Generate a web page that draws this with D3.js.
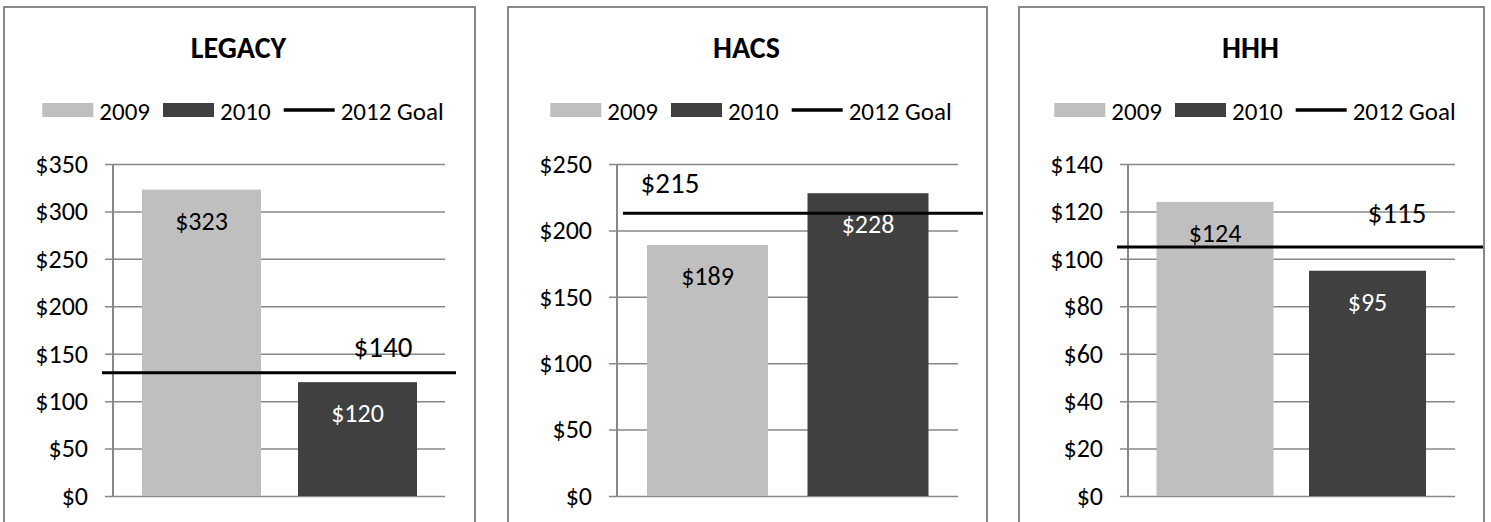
<!DOCTYPE html>
<html lang="en">
<head>
<meta charset="UTF-8">
<title>Cost per member - 2009 / 2010 / 2012 Goal</title>
<style>
	* { margin: 0; box-sizing: border-box; }
	body { width: 1491px; height: 522px; background: white; overflow: hidden; }
	svg { display: block; font-family: Carlito, Calibri, Lato, sans-serif; }
</style>
</head>
<body>
<svg id="chart" width="1491" height="522"></svg>
<script src="https://cdn.jsdelivr.net/npm/d3@7/dist/d3.min.js"></script>
<script>
// data
const panels = ["LEGACY", "HACS", "HHH"];
const years = ["2009", "2010"];
const values2009 = [323, 189, 124];
const values2010 = [120, 228, 95];
const goalLabels = [140, 215, 115];   // value printed next to the goal line
const goalDrawn = [130, 213, 105];    // where the line actually sits in the picture
const yMax = [350, 250, 140];
const yStep = [50, 50, 20];
const legendNames = ["2009", "2010", "2012 Goal"];
// data end

const colors = {"2009": "#bfbfbf", "2010": "#404040"};
const grey = "#888";

// layout of each panel (pixels)
const layout = [
	{box: [4, 475], axis: 113, gridEnd: 445, centers: [201.5, 357.5], bw: 119, line: [102, 456], lab: [383, 347]},
	{box: [508, 987], axis: 617, gridEnd: 958, centers: [707.5, 868], bw: 121, line: [623, 983], lab: [670, 183]},
	{box: [1019, 1484], axis: 1128, gridEnd: 1455, centers: [1215, 1367.5], bw: 117, line: [1117, 1483], lab: [1397, 213]}
];
const plotTop = 164, plotBottom = 496;

const svg = d3.select("#chart");
const fmt = d => "$" + d;

panels.forEach((name, i) => {
	const L = layout[i];
	const g = svg.append("g");
	const mid = (L.box[0] + L.box[1]) / 2;

	// panel frame (bottom runs off the picture)
	g.append("path")
		.attr("d", `M${L.box[0]},540V7H${L.box[1]}V540`)
		.attr("fill", "none")
		.attr("stroke", grey)
		.attr("stroke-width", 2);

	g.append("text")
		.attr("x", mid - 1).attr("y", 58)
		.attr("text-anchor", "middle")
		.attr("font-weight", "bold")
		.attr("font-size", 30)
		.text(name);

	// legend, centred on the panel
	const leg = g.append("g");
	let x = 0;
	legendNames.forEach((n, k) => {
		if (k < 2) {
			leg.append("rect").attr("x", x).attr("y", 103).attr("width", 51).attr("height", 14)
				.attr("fill", colors[years[k]]);
		} else {
			leg.append("line").attr("x1", x).attr("x2", x + 51).attr("y1", 110).attr("y2", 110)
				.attr("stroke", "black").attr("stroke-width", 3.5);
		}
		x += 57;
		const t = leg.append("text").attr("x", x).attr("y", 120).attr("font-size", 25).text(n);
		x += t.node().getComputedTextLength() + 13;
	});
	const legW = x - 13;
	leg.attr("transform", `translate(${mid + 3.5 - legW / 2},0)`);

	const y = d3.scaleLinear().domain([0, yMax[i]]).range([plotBottom, plotTop]);
	const s = L.centers[1] - L.centers[0];
	const xb = d3.scaleBand().domain(years)
		.range([L.centers[0] - s / 2, L.centers[1] + s / 2])
		.paddingInner(1 - L.bw / s).paddingOuter((1 - L.bw / s) / 2);

	// y axis with gridlines
	const ticks = d3.range(0, yMax[i] + 1, yStep[i]);
	const ax = g.append("g")
		.attr("transform", `translate(${L.axis},0)`)
		.call(d3.axisLeft(y).tickValues(ticks).tickFormat(fmt)
			.tickSize(-(L.gridEnd - L.axis)).tickSizeOuter(0).tickPadding(25));
	ax.select(".domain").remove();
	ax.selectAll(".tick line").attr("x1", -8).attr("stroke", grey).attr("stroke-width", 1.5);
	ax.selectAll(".tick text").attr("font-size", 26).attr("fill", "black")
		.attr("font-family", "Carlito, Calibri, Lato, sans-serif");

	const series = [values2009[i], values2010[i]];
	g.selectAll(".bar").data(years).join("rect")
		.attr("x", d => xb(d))
		.attr("width", xb.bandwidth())
		.attr("y", (d, k) => y(series[k]))
		.attr("height", (d, k) => plotBottom - y(series[k]))
		.attr("fill", d => colors[d]);

	g.append("line")
		.attr("x1", L.axis).attr("x2", L.axis)
		.attr("y1", plotTop).attr("y2", plotBottom)
		.attr("stroke", grey).attr("stroke-width", 2);

	g.selectAll(".val").data(years).join("text")
		.attr("x", d => xb(d) + xb.bandwidth() / 2)
		.attr("y", (d, k) => y(series[k]) + 31)
		.attr("dy", "0.35em")
		.attr("text-anchor", "middle")
		.attr("font-size", 26)
		.attr("fill", d => d === "2010" ? "white" : "black")
		.text((d, k) => fmt(series[k]));

	// goal line
	g.append("line")
		.attr("x1", L.line[0]).attr("x2", L.line[1])
		.attr("y1", y(goalDrawn[i])).attr("y2", y(goalDrawn[i]))
		.attr("stroke", "black").attr("stroke-width", 3);
	g.append("text")
		.attr("x", L.lab[0])
		.attr("y", L.lab[1])
		.attr("dy", "0.35em")
		.attr("text-anchor", "middle")
		.attr("font-size", 29)
		.text(fmt(goalLabels[i]));
});
</script>
</body>
</html>
